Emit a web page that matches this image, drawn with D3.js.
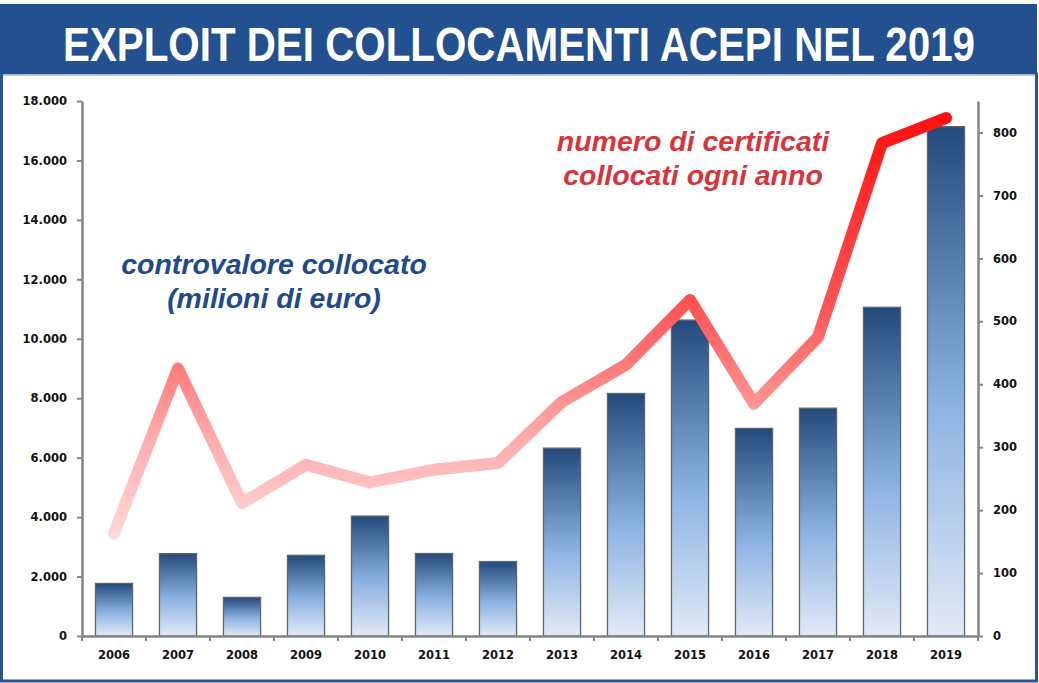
<!DOCTYPE html>
<html>
<head>
<meta charset="utf-8">
<script src="https://cdn.jsdelivr.net/npm/d3@7"></script>
<style>
  body { margin: 0; background: #fff; }
  .tick text { font-family: "DejaVu Sans", Verdana, sans-serif; font-weight: bold; font-size: 11.5px; fill: #111; }
</style>
</head>
<body>
<div id="here"></div>
<script>
var w = 1039, h = 683;

var years = ['2006','2007','2008','2009','2010','2011','2012','2013','2014','2015','2016','2017','2018','2019'];
var controvalore = [1770, 2770, 1300, 2715, 4035, 2775, 2505, 6320, 8160, 10630, 6985, 7665, 11060, 17140];
var certificati = [163, 425, 211, 272, 244, 264, 275, 372, 431, 534, 369, 475, 783, 823];
var leftTicks = [0, 2000, 4000, 6000, 8000, 10000, 12000, 14000, 16000, 18000];
var rightTicks = [0, 100, 200, 300, 400, 500, 600, 700, 800];

var plotL = 82, plotR = 978, plotT = 101, plotB = 636;

var svg = d3.select('#here').append('svg')
  .attr('width', w)
  .attr('height', h);

var defs = svg.append('defs');

var barGrad = defs.append('linearGradient')
  .attr('id', 'barGrad')
  .attr('x1', 0).attr('y1', 0).attr('x2', 0).attr('y2', 1);
barGrad.append('stop').attr('offset', '0%').attr('stop-color', '#244a7c');
barGrad.append('stop').attr('offset', '55%').attr('stop-color', '#8db3e2');
barGrad.append('stop').attr('offset', '100%').attr('stop-color', '#e2e9f5');

var lineGrad = defs.append('linearGradient')
  .attr('id', 'lineGrad')
  .attr('gradientUnits', 'userSpaceOnUse')
  .attr('x1', 0).attr('y1', 545).attr('x2', 0).attr('y2', 115);
lineGrad.append('stop').attr('offset', '0%').attr('stop-color', '#ffdcdc');
lineGrad.append('stop').attr('offset', '25%').attr('stop-color', '#ffabab');
lineGrad.append('stop').attr('offset', '55%').attr('stop-color', '#ff5555');
lineGrad.append('stop').attr('offset', '100%').attr('stop-color', '#ff1010');

// frame + title band
svg.append('rect')
  .attr('x', 1.5).attr('y', 74).attr('width', 1035).attr('height', 607)
  .attr('fill', '#fff').attr('stroke', '#2a5497').attr('stroke-width', 3);
svg.append('rect')
  .attr('x', 0).attr('y', 4).attr('width', 1037).attr('height', 70)
  .attr('fill', '#23508f');
svg.append('line')
  .attr('x1', 3).attr('x2', 1035).attr('y1', 75).attr('y2', 75)
  .attr('stroke', '#c9d6ea').attr('stroke-width', 1.5);
svg.append('text')
  .attr('x', 63).attr('y', 61)
  .attr('textLength', 912)
  .attr('lengthAdjust', 'spacingAndGlyphs')
  .style('font-family', '"Liberation Sans", Arial, sans-serif')
  .style('font-weight', 'bold')
  .style('font-size', '49px')
  .attr('fill', '#fff')
  .text('EXPLOIT DEI COLLOCAMENTI ACEPI NEL 2019');

var x = d3.scaleBand().domain(years).range([plotL, plotR]).paddingInner(0.42).paddingOuter(0.21);
var y = d3.scaleLinear().domain([0, 18000]).range([plotB, plotT]);
var y2 = d3.scaleLinear().domain([0, 850]).range([plotB, plotT]);

// bars
svg.selectAll('.bar')
  .data(years)
  .enter().append('rect')
  .attr('class', 'bar')
  .attr('x', function(d) { return x(d); })
  .attr('width', x.bandwidth())
  .attr('y', function(d, i) { return y(controvalore[i]); })
  .attr('height', function(d, i) { return plotB - y(controvalore[i]); })
  .attr('fill', 'url(#barGrad)')
  .attr('stroke', '#5f6670')
  .attr('stroke-width', 1.3);

// axes
var axisColor = '#858585';

var gl = svg.append('g')
  .attr('transform', 'translate(' + plotL + ',0)')
  .call(d3.axisLeft(y).tickValues(leftTicks).tickSize(5).tickPadding(10).tickSizeOuter(0)
    .tickFormat(function(d) { return d === 0 ? '0' : d3.format(',')(d).replace(/,/g, '.'); }));

var gr = svg.append('g')
  .attr('transform', 'translate(' + plotR + ',0)')
  .call(d3.axisRight(y2).tickValues(rightTicks).tickSize(5).tickPadding(10).tickSizeOuter(0));

var gb = svg.append('g')
  .attr('transform', 'translate(0,' + plotB + ')')
  .call(d3.axisBottom(x).tickSize(0).tickPadding(15).tickSizeOuter(0));

// category boundary ticks
var half = (x.step() - x.bandwidth()) / 2;
var bounds = years.map(function(d) { return x(d) - half; }).concat([plotR]);
gb.selectAll('.bnd')
  .data(bounds)
  .enter().append('line')
  .attr('class', 'bnd')
  .attr('x1', function(d) { return d; }).attr('x2', function(d) { return d; })
  .attr('y1', 0).attr('y2', 5);

[gl, gr, gb].forEach(function(g) {
  g.selectAll('.domain').attr('stroke', axisColor).attr('stroke-width', 2.5);
  g.selectAll('line').attr('stroke', axisColor).attr('stroke-width', 2);
});

// line
var line = d3.line()
  .x(function(d, i) { return x(years[i]) + x.bandwidth() / 2; })
  .y(function(d) { return y2(d); });

svg.append('path')
  .datum(certificati)
  .attr('d', line)
  .attr('fill', 'none')
  .attr('stroke', 'url(#lineGrad)')
  .attr('stroke-width', 12)
  .attr('stroke-linecap', 'round')
  .attr('stroke-linejoin', 'round');

// annotations
var ann = svg.append('g')
  .style('font-family', '"Liberation Sans", Arial, sans-serif')
  .style('font-weight', 'bold')
  .style('font-style', 'italic')
  .style('font-size', '28.5px')
  .style('text-anchor', 'middle');

ann.append('text').attr('x', 274).attr('y', 274).attr('fill', '#1f4b8b').text('controvalore collocato');
ann.append('text').attr('x', 274).attr('y', 308).attr('fill', '#1f4b8b').text('(milioni di euro)');
ann.append('text').attr('x', 693).attr('y', 151).attr('fill', '#d9343b').text('numero di certificati');
ann.append('text').attr('x', 693).attr('y', 185).attr('fill', '#d9343b').text('collocati ogni anno');
</script>
</body>
</html>
